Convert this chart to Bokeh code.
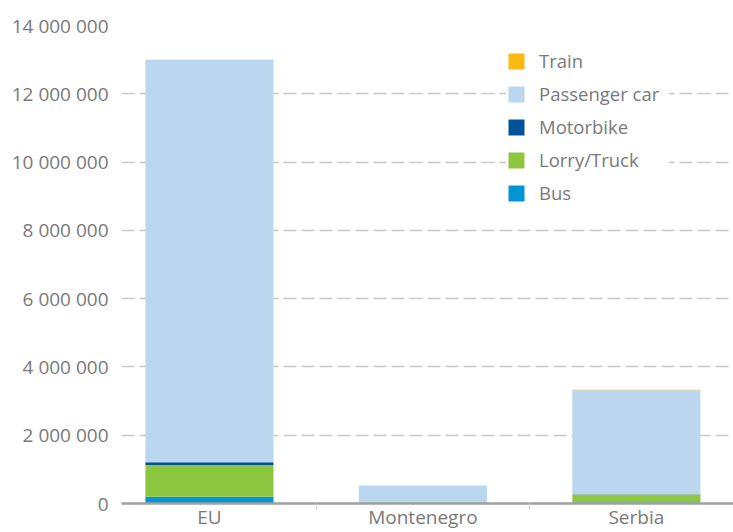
from bokeh.plotting import figure
from bokeh.models import ColumnDataSource, FixedTicker, Legend, LegendItem, Range1d
from bokeh.embed import file_html
from bokeh.resources import INLINE

categories = ["EU", "Montenegro", "Serbia"]
series = ["Bus", "Lorry/Truck", "Motorbike", "Passenger car", "Train"]
bus = [200000, 5000, 40000]
lorry = [930000, 20000, 220000]
motorbike = [80000, 2000, 10000]
passenger_car = [11780000, 500000, 3050000]
train = [10000, 0, 10000]
colors = ["#0096D6", "#8DC63F", "#00529B", "#BBD6EF", "#FDB913"]
y_ticks = [0, 2000000, 4000000, 6000000, 8000000, 10000000, 12000000, 14000000]

FONT = "Open Sans"
TXT = "#7a7a7a"

x_pos = [i + 0.5 for i in range(len(categories))]
src = ColumnDataSource(dict(x=x_pos, Bus=bus, **{"Lorry/Truck": lorry}, Motorbike=motorbike,
                            **{"Passenger car": passenger_car}, Train=train))

p = figure(width=733, height=532, output_backend="svg", toolbar_location=None,
           x_range=Range1d(0.088, 2.955), y_range=Range1d(0, 14000000),
           min_border_left=121, min_border_right=0, min_border_top=25, min_border_bottom=10)
p.outline_line_color = None

renderers = p.vbar_stack(series, x="x", width=0.6, source=src, color=colors, line_color=None)

p.xgrid.grid_line_color = None
p.ygrid.grid_line_color = "#c8c8c8"
p.ygrid.grid_line_width = 1.5
p.ygrid.grid_line_dash = "13 5"
p.ygrid.ticker = FixedTicker(ticks=y_ticks)

p.yaxis.ticker = FixedTicker(ticks=y_ticks)
p.yaxis.major_label_overrides = {v: f"{v:,}".replace(",", " ") for v in y_ticks}
p.yaxis.axis_line_color = None
p.yaxis.major_tick_line_color = None
p.yaxis.major_tick_out = 0
p.yaxis.minor_tick_line_color = None
p.yaxis.minor_tick_out = 0
p.yaxis.major_label_standoff = 13
p.yaxis.major_label_text_font = FONT
p.yaxis.major_label_text_font_size = "19px"
p.yaxis.major_label_text_color = TXT

p.xaxis.ticker = FixedTicker(ticks=x_pos, minor_ticks=[1, 2])
p.xaxis.major_label_overrides = {x: c for x, c in zip(x_pos, categories)}
p.xaxis.axis_line_color = "#a0a0a0"
p.xaxis.axis_line_width = 2.5
p.xaxis.major_tick_line_color = None
p.xaxis.major_tick_out = 0
p.xaxis.major_tick_in = 0
p.xaxis.minor_tick_line_color = "#d0d0d0"
p.xaxis.minor_tick_in = -6
p.xaxis.minor_tick_out = 0
p.xaxis.major_label_standoff = 0
p.xaxis.major_label_text_font = FONT
p.xaxis.major_label_text_font_size = "19px"
p.xaxis.major_label_text_color = TXT

items = [LegendItem(label=s, renderers=[r]) for s, r in zip(series, renderers)][::-1]
legend = Legend(items=items, location=(385, 298), orientation="vertical",
                glyph_width=20, glyph_height=20, label_height=16, label_width=130, spacing=8,
                label_standoff=13, padding=10, margin=0,
                label_text_font=FONT, label_text_font_size="18.5px", label_text_color=TXT,
                border_line_color=None, background_fill_color="white", background_fill_alpha=1)
p.add_layout(legend, "center")

open("out.html", "w").write(file_html(p, INLINE))
